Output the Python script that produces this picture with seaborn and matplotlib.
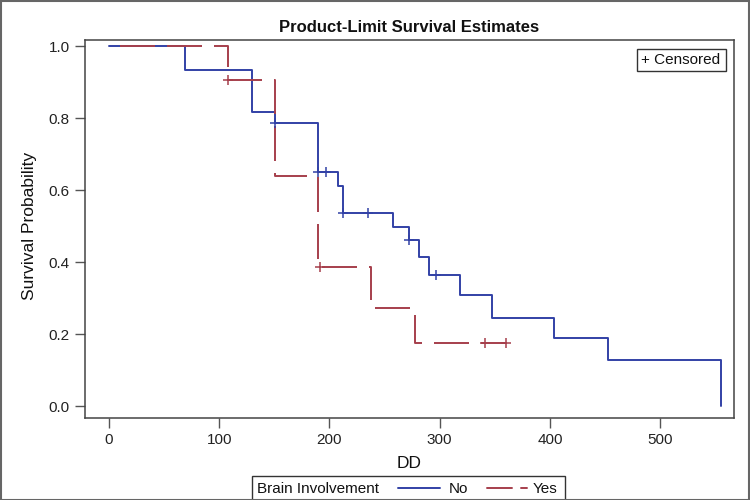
import matplotlib
matplotlib.use("Agg")
import matplotlib.pyplot as plt
import seaborn as sns
import pandas as pd
from matplotlib.patches import Rectangle
from matplotlib.lines import Line2D

# ---- data ----
no_time = [0, 69, 130, 151, 190, 208, 212, 258, 272, 281, 290, 318, 347, 404, 453, 555]
no_surv = [1.0, 0.933, 0.816, 0.787, 0.65, 0.61, 0.536, 0.497, 0.461, 0.414, 0.364, 0.308, 0.245, 0.19, 0.128, 0.0]
yes_time = [0, 108, 151, 190, 238, 278, 360]
yes_surv = [1.0, 0.906, 0.64, 0.386, 0.272, 0.175, 0.175]
no_cens_time = [151, 190, 197, 212, 235, 272, 297]
no_cens_surv = [0.787, 0.65, 0.65, 0.536, 0.536, 0.461, 0.364]
yes_cens_time = [108, 191, 341, 360]
yes_cens_surv = [0.906, 0.386, 0.175, 0.175]
x_ticks = [0, 100, 200, 300, 400, 500]
y_ticks = [0.0, 0.2, 0.4, 0.6, 0.8, 1.0]

BLUE = "#3241A6"
RED = "#A63F4C"

sns.set_theme(style="white")
plt.rcParams["font.family"] = ["Liberation Sans", "DejaVu Sans"]

W, H = 750, 500
fig = plt.figure(figsize=(7.5, 5), dpi=100)
ax = fig.add_axes([85 / W, 1 - 418 / H, (734 - 85) / W, (418 - 40) / H])

df_no = pd.DataFrame({"t": no_time, "s": no_surv})
df_yes = pd.DataFrame({"t": yes_time, "s": yes_surv})

LW = 1.4
sns.lineplot(data=df_no, x="t", y="s", ax=ax, color=BLUE, lw=LW,
             drawstyle="steps-post", estimator=None, sort=False)
sns.lineplot(data=df_yes, x="t", y="s", ax=ax, color=RED, lw=LW,
             drawstyle="steps-post", estimator=None, sort=False)
# long-dash pattern (~35 px on, ~12 px off), in units of line width
px2pt = 72 / 100
on = 35 * px2pt / LW
off = 12 * px2pt / LW
ax.lines[-1].set_linestyle((36 * px2pt / LW, (on, off)))
ax.lines[-1].set_zorder(3)

sns.scatterplot(x=no_cens_time, y=no_cens_surv, ax=ax, marker="+", s=45,
                color=BLUE, linewidth=1.1, zorder=5)
sns.scatterplot(x=yes_cens_time, y=yes_cens_surv, ax=ax, marker="+", s=45,
                color=RED, linewidth=1.1, zorder=5)

ax.set_xlim(-21.8, 567)
ax.set_ylim(-0.0333, 1.0167)
ax.set_xticks(x_ticks)
ax.set_xticklabels([str(v) for v in x_ticks])
ax.set_yticks(y_ticks)
ax.set_yticklabels([f"{v:.1f}" for v in y_ticks])
ax.tick_params(axis="both", direction="out", length=7, width=1,
               color="#555555", labelsize=11, labelcolor="#222222", pad=4,
               bottom=True, left=True)
for sp in ax.spines.values():
    sp.set_color("#444444")
    sp.set_linewidth(1.1)
ax.set_xlabel("")
ax.set_ylabel("")

fig.text(30 / W, 1 - 226 / H, "Survival Probability", rotation=90,
         ha="center", va="center", fontsize=12.5, color="#111111")
fig.text(409 / W, 1 - 463 / H, "DD", ha="center", va="center",
         fontsize=12.5, color="#111111")
fig.text(409 / W, 1 - 27 / H, "Product-Limit Survival Estimates",
         ha="center", va="center", fontsize=12, fontweight="bold",
         color="#111111")

# censored inset box
fig.patches.append(Rectangle((637 / W, 1 - 71 / H), (726 - 637) / W, 22 / H,
                             transform=fig.transFigure, fill=False,
                             edgecolor="#333333", lw=1))
fig.text(681 / W, 1 - 60 / H, "+ Censored", ha="center", va="center",
         fontsize=11, color="#111111")

# bottom legend
fig.patches.append(Rectangle((252 / W, 1 - 503 / H), (565 - 252) / W, 27 / H,
                             transform=fig.transFigure, fill=False,
                             edgecolor="#333333", lw=1))
fig.text(257 / W, 1 - 489 / H, "Brain Involvement", ha="left", va="center",
         fontsize=11, color="#111111")
fig.lines.append(Line2D([398 / W, 440 / W], [1 - 488 / H, 1 - 488 / H],
                        transform=fig.transFigure, color=BLUE, lw=LW))
fig.text(449 / W, 1 - 489 / H, "No", ha="left", va="center",
         fontsize=11, color="#111111")
fig.lines.append(Line2D([487 / W, 512 / W], [1 - 488 / H, 1 - 488 / H],
                        transform=fig.transFigure, color=RED, lw=LW))
fig.lines.append(Line2D([521 / W, 527 / W], [1 - 488 / H, 1 - 488 / H],
                        transform=fig.transFigure, color=RED, lw=LW))
fig.text(533 / W, 1 - 489 / H, "Yes", ha="left", va="center",
         fontsize=11, color="#111111")

# outer border
fig.patches.append(Rectangle((0.001, 0.001), 0.997, 0.997,
                             transform=fig.transFigure, fill=False,
                             edgecolor="#666666", lw=1.5))

fig.savefig("out.png", dpi=100)
